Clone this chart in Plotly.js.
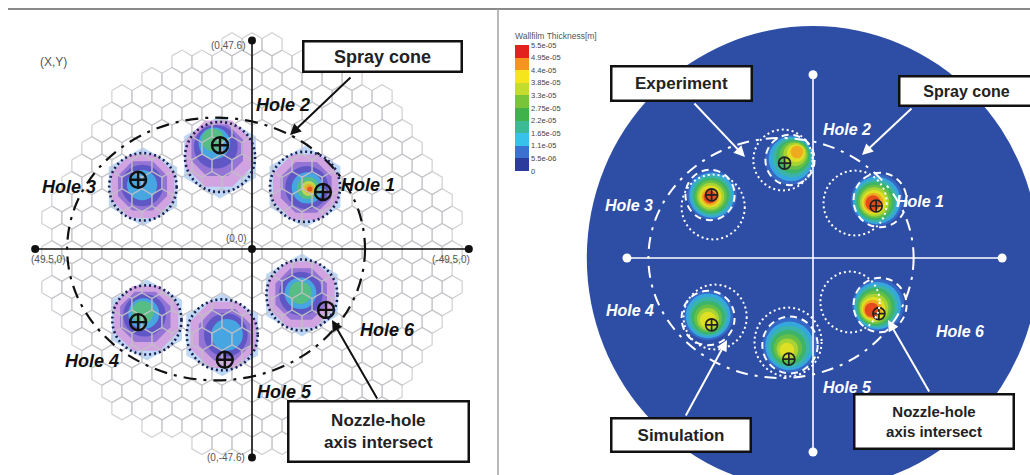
<!DOCTYPE html>
<html><head><meta charset="utf-8">
<script src="https://cdn.plot.ly/plotly-3.0.1.min.js"></script>
<style>html,body{margin:0;padding:0;background:#fff;}#chart{width:1030px;height:475px;}</style>
</head><body><div id="chart"></div>
<script>
// ---------------- data ----------------
const holeNames = ['Hole 1','Hole 2','Hole 3','Hole 4','Hole 5','Hole 6'];
const holeX = [-16.2, 7.3, 26.0, 26.0, 6.2, -16.9];   // nozzle-hole axis intersect
const holeY = [13.0, 23.7, 15.8, -16.7, -25.3, -13.9];

const axisEndX = [49.5, -49.5];
const axisEndY = [47.6, -47.6];
const axisLabels = ['(0,47.6)', '(0,-47.6)', '(49.5,0)', '(-49.5,0)', '(0,0)', '(X,Y)'];

const coneCenter = [8.2, 0];
const coneRadius = [34, 30];

// experiment (left panel)
const expSpotX = [-12.1, 7.3, 24.9, 24.0, 6.8, -11.4];
const expSpotY = [14.2, 21.0, 14.2, -16.2, -19.6, -10.5];
const expCoreX = [-13.2, 8.9, 25.1, 24.9, 5.7, -11.0];
const expCoreY = [13.7, 24.9, 14.6, -14.4, -19.6, -10.0];
const expSpotR = [8.5, 8.6, 8.2, 8.4, 8.6, 8.6];
const expPeakLevel = [8, 5, 4, 5, 4, 5];
const expOutlineR = [8.0, 8.0, 7.7, 7.9, 8.1, 8.1];

// simulation (right panel)
const simSpotX = [-16.4, 5.9, 25.9, 26.9, 5.9, -16.7];
const simSpotY = [14.5, 24.5, 15.75, -14.25, -21.75, -11.75];
const simCoreX = [-15.4, 4.1, 26.4, 26.9, 6.7, -15.1];
const simCoreY = [13.75, 26.5, 15.25, -15.5, -23.0, -13.0];
const simSpotR = [6.6, 6.3, 6.3, 6.4, 7.0, 6.6];
const simPeak = [5.5e-5, 4.7e-5, 5.3e-5, 4.5e-5, 4.2e-5, 5.4e-5];
const simOutlineX = [-17.2, 5.9, 26.4, 26.9, 5.9, -17.2];
const simOutlineY = [14.5, 24.5, 15.75, -15.0, -21.75, -11.75];
const simOutlineR = [6.8, 6.3, 6.3, 6.8, 7.1, 6.8];
const expOnSimX = [-10.8, 7.7, 25.6, 25.1, 6.4, -9.5];
const expOnSimY = [13.75, 24.5, 12.75, -14.75, -21.0, -11.0];
const expOnSimR = [8.1, 7.6, 8.1, 8.1, 8.6, 7.6];

const wallRadius = 58;
const rightAxisX = [47.7, -48.5];
const rightAxisY = [45.8, -48.5];

const legendTicks = [0, 5.5e-6, 1.1e-5, 1.65e-5, 2.2e-5, 2.75e-5, 3.3e-5, 3.85e-5, 4.4e-5, 4.95e-5, 5.5e-5];
const legendLabels = ['0','5.5e-06','1.1e-05','1.65e-05','2.2e-05','2.75e-05','3.3e-05','3.85e-05','4.4e-05','4.95e-05','5.5e-05'];
const legendTitle = 'Wallfilm Thickness[m]';

// ---------------- styles / geometry ----------------
const legendColors = ['#2c3c9c','#3b72d2','#36c2ea','#3cba96','#3fb34a','#78c53a','#c3dc2e','#f6e41c','#f59420','#e3221c'];
const expColors = ['#a2c6f0','#d98ed8','#7a5fcf','#4a4cc0','#3dc6ee','#5cc85c','#ece238','#f49a22','#e8321e'];
const expFracs = [1.1, 0.95, 0.74, 0.58, 0.42, 0.3, 0.2, 0.13, 0.07];
const hexWidth = 4.57, hexGridRadius = 47, hexRowShift = 3.2;

const W = 1030, H = 475, SPLIT = 498;
const L = {cx: 252, cy: 249, s: 4.38};
const R = {cx: 813, cy: 258, sx: 3.9, sy: 4.0};
const FONT = 'Liberation Sans, Arial, sans-serif';
const px = x => x / W, py = y => 1 - y / H;

const traces = [];

// ---- left: experiment spots
{
  const xs = [], ys = [], cols = [], sizes = [], syms = [];
  for (let i = 0; i < 6; i++) {
    const n = expPeakLevel[i];
    for (let k = 0; k <= n; k++) {
      const t = n > 0 ? k / n : 0;
      xs.push(expSpotX[i] + (expCoreX[i] - expSpotX[i]) * t);
      ys.push(expSpotY[i] + (expCoreY[i] - expSpotY[i]) * t);
      cols.push(expColors[k]);
      sizes.push(2 * expSpotR[i] * expFracs[k] * L.s);
      syms.push(k < 1 ? 'hexagon' : (k < 3 ? 'octagon' : 'circle'));
    }
  }
  traces.push({type: 'scatter', mode: 'markers', x: xs, y: ys, xaxis: 'x', yaxis: 'y',
    marker: {color: cols, size: sizes, symbol: syms, line: {width: 0}}, hoverinfo: 'skip'});
}

// ---- left: hexagonal grid
{
  const s = hexWidth / Math.sqrt(3), rowH = 1.5 * s;
  const gx = [], gy = [];
  for (let k = -16; k <= 16; k++) {
    const yc = hexRowShift + k * rowH;
    const off = (Math.abs(k) % 2 === 0) ? hexWidth / 2 : 0;
    for (let j = -16; j <= 16; j++) {
      const xc = off + j * hexWidth;
      if (Math.hypot(xc, yc) > hexGridRadius) continue;
      for (let m = 0; m <= 6; m++) {
        const a = (30 + 60 * m) * Math.PI / 180;
        gx.push(xc + s * Math.cos(a)); gy.push(yc + s * Math.sin(a));
      }
      gx.push(null); gy.push(null);
    }
  }
  traces.push({type: 'scatter', mode: 'lines', x: gx, y: gy, xaxis: 'x', yaxis: 'y',
    line: {color: 'rgba(192,192,198,0.75)', width: 1.2}, hoverinfo: 'skip', connectgaps: false});
}

// ---- left axes
traces.push({type: 'scatter', mode: 'lines+markers', x: [axisEndX[0], axisEndX[1], null, 0, 0], y: [0, 0, null, axisEndY[0], axisEndY[1]],
  xaxis: 'x', yaxis: 'y', line: {color: '#111', width: 1.6}, marker: {color: '#111', size: 8}, hoverinfo: 'skip'});
traces.push({type: 'scatter', mode: 'markers', x: [0], y: [0], xaxis: 'x', yaxis: 'y',
  marker: {color: '#111', size: 8}, hoverinfo: 'skip'});
// ---- left hole markers
traces.push({type: 'scatter', mode: 'markers', x: holeX, y: holeY, xaxis: 'x', yaxis: 'y',
  marker: {symbol: 'circle-cross-open', size: 16, color: '#111', line: {width: 2.4, color: '#111'}}, hoverinfo: 'skip'});

// ---- right: simulation spots with legend scale
{
  const levels = [];
  for (let b = 1; b < legendTicks.length - 1; b++) levels.push((legendTicks[b] + legendTicks[b + 1]) / 2);
  const xs = [], ys = [], vals = [], sizes = [];
  const ppu = (R.sx + R.sy) / 2;
  for (let i = 0; i < 6; i++) {
    const lv = levels.filter(l => l < simPeak[i]);
    const n = lv.length;
    for (let k = 0; k < n; k++) {
      const frac = 1 - 0.75 * (lv[k] - lv[0]) / (simPeak[i] - lv[0]);
      const t = n > 1 ? k / (n - 1) : 0;
      xs.push(simSpotX[i] + (simCoreX[i] - simSpotX[i]) * t);
      ys.push(simSpotY[i] + (simCoreY[i] - simSpotY[i]) * t);
      vals.push(lv[k]);
      sizes.push(2 * simSpotR[i] * frac * ppu);
    }
  }
  const cs = [];
  legendColors.forEach((c, i) => { cs.push([i / legendColors.length, c]); cs.push([(i + 1) / legendColors.length, c]); });
  traces.push({type: 'scatter', mode: 'markers', x: xs, y: ys, xaxis: 'x2', yaxis: 'y2', hoverinfo: 'skip',
    marker: {color: vals, size: sizes, colorscale: cs, cmin: 0, cmax: legendTicks[legendTicks.length - 1], line: {width: 0},
      showscale: true,
      colorbar: {x: px(515), xanchor: 'left', xref: 'paper', xpad: 0, y: py(30), yanchor: 'top', yref: 'paper', ypad: 0,
        len: 141, lenmode: 'pixels', thickness: 14, thicknessmode: 'pixels', outlinewidth: 0, borderwidth: 0,
        tickmode: 'array', tickvals: legendTicks, ticktext: legendLabels, ticks: '',
        tickfont: {size: 7.5, color: '#444', family: FONT},
        title: {text: legendTitle, side: 'top', font: {size: 8.5, color: '#555', family: FONT}}}}});
}
// ---- right axes
traces.push({type: 'scatter', mode: 'lines+markers', x: [rightAxisX[0], rightAxisX[1], null, 0, 0], y: [0, 0, null, rightAxisY[0], rightAxisY[1]],
  xaxis: 'x2', yaxis: 'y2', line: {color: '#fff', width: 1.6}, marker: {color: '#fff', size: 9}, hoverinfo: 'skip'});
// ---- right hole markers
traces.push({type: 'scatter', mode: 'markers', x: holeX, y: holeY, xaxis: 'x2', yaxis: 'y2',
  marker: {symbol: 'circle-cross-open', size: 12, color: '#222', line: {width: 1.7, color: '#222'}}, hoverinfo: 'skip'});

// ---------------- shapes ----------------
const shapes = [];
shapes.push({type: 'circle', xref: 'x2', yref: 'y2', x0: -wallRadius, x1: wallRadius, y0: -wallRadius, y1: wallRadius,
  fillcolor: '#2e4ea6', line: {width: 0}, layer: 'below'});
shapes.push({type: 'circle', xref: 'x', yref: 'y', x0: coneCenter[0] - coneRadius[0], x1: coneCenter[0] + coneRadius[0],
  y0: coneCenter[1] - coneRadius[1], y1: coneCenter[1] + coneRadius[1], line: {color: '#111', width: 2.2, dash: '13px,7px,3px,7px'}, layer: 'above'});
shapes.push({type: 'circle', xref: 'x2', yref: 'y2', x0: coneCenter[0] - coneRadius[0], x1: coneCenter[0] + coneRadius[0],
  y0: coneCenter[1] - coneRadius[1], y1: coneCenter[1] + coneRadius[1], line: {color: '#fff', width: 2, dash: '12px,7px,3px,7px'}, layer: 'above'});
for (let i = 0; i < 6; i++) {
  shapes.push({type: 'circle', xref: 'x', yref: 'y', x0: expSpotX[i] - expOutlineR[i], x1: expSpotX[i] + expOutlineR[i],
    y0: expSpotY[i] - expOutlineR[i], y1: expSpotY[i] + expOutlineR[i], line: {color: '#1b1f55', width: 2.6, dash: '2px,3px'}, layer: 'above'});
  shapes.push({type: 'circle', xref: 'x2', yref: 'y2', x0: expOnSimX[i] - expOnSimR[i], x1: expOnSimX[i] + expOnSimR[i],
    y0: expOnSimY[i] - expOnSimR[i], y1: expOnSimY[i] + expOnSimR[i], line: {color: '#fff', width: 2, dash: '2px,3px'}, layer: 'above'});
  shapes.push({type: 'circle', xref: 'x2', yref: 'y2', x0: simOutlineX[i] - simOutlineR[i], x1: simOutlineX[i] + simOutlineR[i],
    y0: simOutlineY[i] - simOutlineR[i], y1: simOutlineY[i] + simOutlineR[i], line: {color: '#fff', width: 2, dash: '7px,5px'}, layer: 'above'});
}
shapes.push({type: 'line', xref: 'paper', yref: 'paper', x0: px(8), x1: 1, y0: py(9), y1: py(9), line: {color: '#8a8a8a', width: 2}});
shapes.push({type: 'line', xref: 'paper', yref: 'paper', x0: px(SPLIT), x1: px(SPLIT), y0: 0, y1: py(9), line: {color: '#a0a0a0', width: 1.5}});

// ---------------- annotations ----------------
const ann = [];
const small = {size: 10, color: '#555', family: 'Liberation Sans Narrow, Liberation Sans, Arial, sans-serif'};
ann.push({xref: 'x', yref: 'y', x: 0, y: axisEndY[0], text: axisLabels[0], showarrow: false, xanchor: 'right', yanchor: 'middle', xshift: -5, yshift: -5, font: small});
ann.push({xref: 'x', yref: 'y', x: 0, y: axisEndY[1], text: axisLabels[1], showarrow: false, xanchor: 'right', yanchor: 'middle', xshift: -5, font: small});
ann.push({xref: 'x', yref: 'y', x: axisEndX[0], y: 0, text: axisLabels[2], showarrow: false, xanchor: 'left', yanchor: 'top', xshift: -6, yshift: -3, font: small});
ann.push({xref: 'x', yref: 'y', x: axisEndX[1], y: 0, text: axisLabels[3], showarrow: false, xanchor: 'right', yanchor: 'top', xshift: 3, yshift: -3, font: small});
ann.push({xref: 'x', yref: 'y', x: 0, y: 0, text: axisLabels[4], showarrow: false, xanchor: 'right', yanchor: 'bottom', xshift: -3, yshift: 3, font: small});
ann.push({xref: 'paper', yref: 'paper', x: px(53), y: py(62), text: axisLabels[5], showarrow: false, xanchor: 'center', yanchor: 'middle',
  font: {size: 12, color: '#555', family: small.family}});

const leftLabelPos = [[368,185],[283,105],[69,187],[92,361],[284,392],[387,330]];
const rightLabelPos = [[920,202],[847,129],[629,205],[630,310],[847,387],[960,331]];
holeNames.forEach((n, i) => {
  ann.push({xref: 'paper', yref: 'paper', x: px(leftLabelPos[i][0]), y: py(leftLabelPos[i][1]), text: '<b><i>' + n + '</i></b>',
    showarrow: false, xanchor: 'center', yanchor: 'middle', font: {size: 18, color: '#111', family: FONT}});
  ann.push({xref: 'paper', yref: 'paper', x: px(rightLabelPos[i][0]), y: py(rightLabelPos[i][1]), text: '<b><i>' + n + '</i></b>',
    showarrow: false, xanchor: 'center', yanchor: 'middle', font: {size: 16, color: '#fff', family: FONT}});
});

function arrow(tail, head, color) {
  ann.push({xref: 'paper', yref: 'paper', x: px(head[0]), y: py(head[1]), ax: tail[0] - head[0], ay: tail[1] - head[1],
    text: '', showarrow: true, arrowhead: 2, arrowsize: 1.1, arrowwidth: 2, arrowcolor: color});
}
arrow([352, 76], [290, 135], '#111');
arrow([378, 400], [332, 320], '#111');
arrow([693, 102], [745, 157], '#fff');
arrow([913, 107], [862, 155], '#fff');
arrow([685, 417], [727, 340], '#fff');
arrow([930, 393], [888, 320], '#fff');

function box(cx, cy, w, h, text, size) {
  ann.push({xref: 'paper', yref: 'paper', x: px(cx), y: py(cy), xanchor: 'center', yanchor: 'middle', text: '<b>' + text + '</b>',
    showarrow: false, width: w, height: h, align: 'center', valign: 'middle', bgcolor: '#fff', bordercolor: '#111', borderwidth: 2.5, borderpad: 0,
    font: {size: size, color: '#222', family: FONT}});
}
box(382.5, 56, 156, 28, 'Spray cone', 18);
box(378.5, 431.5, 178, 58, 'Nozzle-hole<br>axis intersect', 17);
box(681.5, 83.5, 138, 32, 'Experiment', 17);
box(966, 91, 132, 27, 'Spray cone', 16);
box(681, 435, 137, 31, 'Simulation', 17);
box(934, 421.5, 157, 52, 'Nozzle-hole<br>axis intersect', 15);

// ---------------- layout ----------------
const hidden = {visible: false, showgrid: false, zeroline: false, fixedrange: true};
const layout = {
  width: W, height: H, margin: {l: 0, r: 0, t: 0, b: 0}, paper_bgcolor: '#fff', plot_bgcolor: 'rgba(0,0,0,0)',
  showlegend: false, hovermode: false, font: {family: FONT},
  xaxis: Object.assign({}, hidden, {domain: [0, px(SPLIT)], range: [L.cx / L.s, (L.cx - SPLIT) / L.s]}),
  yaxis: Object.assign({}, hidden, {domain: [0, 1], range: [(L.cy - H) / L.s, L.cy / L.s]}),
  xaxis2: Object.assign({}, hidden, {domain: [px(SPLIT), 1], range: [(R.cx - SPLIT) / R.sx, (R.cx - W) / R.sx]}),
  yaxis2: Object.assign({}, hidden, {domain: [0, 1], range: [(R.cy - H) / R.sy, R.cy / R.sy]}),
  shapes: shapes, annotations: ann
};
Plotly.newPlot('chart', traces, layout, {displayModeBar: false, staticPlot: true});
</script></body></html>
